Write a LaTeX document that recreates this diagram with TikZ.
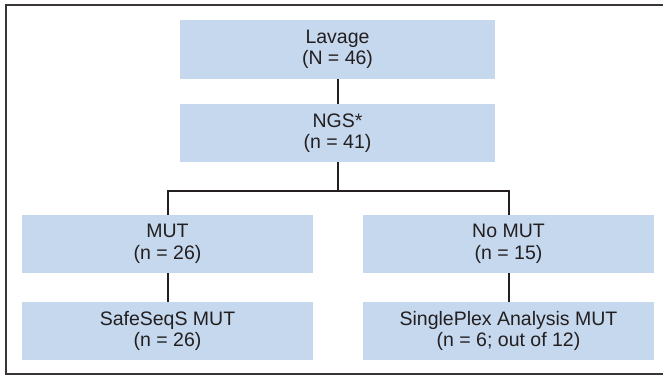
\documentclass[tikz,border=0pt]{standalone}
\usepackage{fontspec}
\setmainfont{Liberation Sans}
\definecolor{boxfill}{HTML}{C5D8EE}
\definecolor{ink}{HTML}{231F20}
\begin{document}
\begin{tikzpicture}[x=1pt,y=-1pt,
  flowbox/.style={rectangle, fill=boxfill, draw=none, inner sep=0pt,
    minimum height=58pt, align=center, text=ink,
    font=\fontsize{19.5}{21.5}\selectfont},
  widebox/.style={flowbox, minimum width=315pt},
  sidebox/.style={flowbox, minimum width=291pt},
  link/.style={draw=ink, line width=2pt},
  frame/.style={draw=ink!90, line width=1.6pt}]
\useasboundingbox (0,0) rectangle (663,376);
\draw[frame] (670,5) -- (6,5) -- (6,374) -- (670,374);
\node[widebox, minimum height=59pt] (lav) at (337.5,49.5) {Lavage\\(N = 46)};
\node[widebox] (ngs) at (337.5,133) {NGS*\\(n = 41)};
\node[sidebox] (mut) at (167.5,244) {MUT\\(n = 26)};
\node[sidebox] (nomut) at (508.5,244) {No MUT\\(n = 15)};
\node[sidebox] (safe) at (167.5,331) {SafeSeqS MUT\\(n = 26)};
\node[sidebox] (single) at (508.5,331) {SinglePlex Analysis MUT\\(n = 6; out of 12)};
\coordinate (split) at (337.5,190.5);
\draw[link] (lav.south) -- (ngs.north);
\draw[link] (ngs.south) -- (split);
\draw[link] (mut.north) |- (split) -| (nomut.north);
\draw[link] (mut.south) -- (safe.north);
\draw[link] (nomut.south) -- (single.north);
\end{tikzpicture}
\end{document}
